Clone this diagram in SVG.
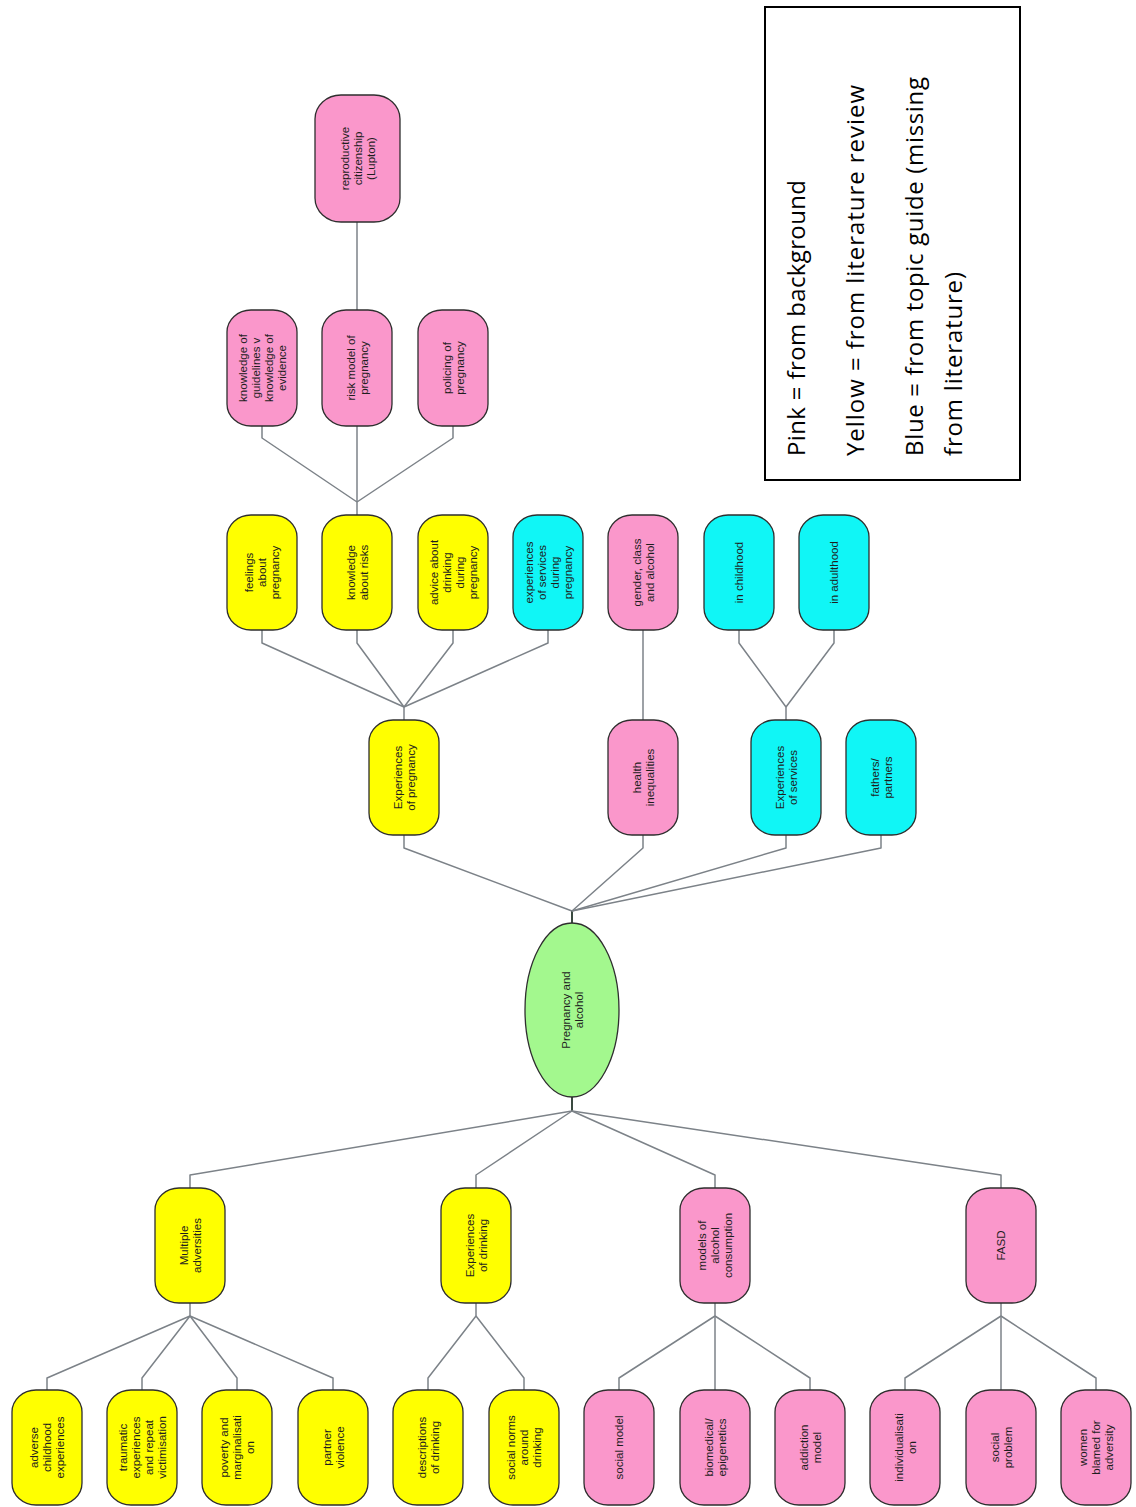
<svg xmlns="http://www.w3.org/2000/svg" width="1136" height="1507" viewBox="0 0 1136 1507">
  <style>
    .bg { fill: #ffffff; }
    .node rect, .node ellipse { stroke: #2e2e2e; stroke-width: 1.3; }
    .pink rect { fill: #FA97CB; }
    .yellow rect { fill: #FFFF00; }
    .cyan rect { fill: #10F6F6; }
    .green ellipse { fill: #A3F88E; }
    .node text { font-family: "Liberation Sans", Arial, sans-serif; font-size: 11.5px; fill: #1e1e1e; text-anchor: middle; }
    .links path { fill: none; stroke: #7c8288; stroke-width: 1.5; stroke-linejoin: round; }
    .links .stem { stroke: #3a4a40; stroke-width: 2; }
    .legend rect { fill: #ffffff; stroke: #000000; stroke-width: 2; }
    .legend text { font-family: "Open Sans", "Liberation Sans", sans-serif; font-size: 24px; fill: #000000; }
  </style>

  <rect class="bg" x="0" y="0" width="1136" height="1507"/>

  <!-- connectors -->
  <g id="connectors" class="links">
    <!-- upper fan from the central ellipse -->
    <path class="stem" d="M572 924 V911"/>
    <path d="M404 835 V848 L572 911"/>
    <path d="M643 835 V848 L572 911"/>
    <path d="M786 835 V848 L572 911"/>
    <path d="M881 835 V848 L572 911"/>
    <!-- Experiences of pregnancy -->
    <path d="M404 720 V707"/>
    <path d="M262 630 V643 L404 707"/>
    <path d="M357 630 V643 L404 707"/>
    <path d="M453 630 V643 L404 707"/>
    <path d="M548 630 V643 L404 707"/>
    <!-- health inequalities -->
    <path d="M643 720 V630"/>
    <!-- Experiences of services -->
    <path d="M786 720 V707"/>
    <path d="M739 630 V643 L786 707"/>
    <path d="M834 630 V643 L786 707"/>
    <!-- knowledge about risks -->
    <path d="M357 515 V502"/>
    <path d="M262 426 V438 L357 502"/>
    <path d="M357 426 V438 L357 502"/>
    <path d="M453 426 V438 L357 502"/>
    <!-- risk model of pregnancy -->
    <path d="M357 310 V222"/>
    <!-- lower fan from the central ellipse -->
    <path class="stem" d="M572 1097 V1111"/>
    <path d="M190 1188 V1175 L572 1111"/>
    <path d="M476 1188 V1175 L572 1111"/>
    <path d="M715 1188 V1175 L572 1111"/>
    <path d="M1001 1188 V1175 L572 1111"/>
    <!-- Multiple adversities -->
    <path d="M190 1303 V1316"/>
    <path d="M47 1390 V1378 L190 1316"/>
    <path d="M142 1390 V1378 L190 1316"/>
    <path d="M237 1390 V1378 L190 1316"/>
    <path d="M333 1390 V1378 L190 1316"/>
    <!-- Experiences of drinking -->
    <path d="M476 1303 V1316"/>
    <path d="M428 1390 V1378 L476 1316"/>
    <path d="M524 1390 V1378 L476 1316"/>
    <!-- models of alcohol consumption -->
    <path d="M715 1303 V1316"/>
    <path d="M619 1390 V1378 L715 1316"/>
    <path d="M715 1390 V1378 L715 1316"/>
    <path d="M810 1390 V1378 L715 1316"/>
    <!-- FASD -->
    <path d="M1001 1303 V1316"/>
    <path d="M905 1390 V1378 L1001 1316"/>
    <path d="M1001 1390 V1378 L1001 1316"/>
    <path d="M1096 1390 V1378 L1001 1316"/>
  </g>

  <!-- central topic -->
  <g id="pregnancy-and-alcohol" class="node green">
    <ellipse cx="572" cy="1010" rx="47" ry="87"/>
    <text transform="translate(572 1010) rotate(-90)"><tspan x="0" y="-2.5">Pregnancy and</tspan><tspan x="0" y="10.5">alcohol</tspan></text>
  </g>

  <!-- upper branch: top row -->
  <g id="reproductive-citizenship" class="node pink">
    <rect x="315" y="95" width="85" height="127" rx="26" ry="24"/>
    <text transform="translate(357.5 158.5) rotate(-90)"><tspan x="0" y="-9">reproductive</tspan><tspan x="0" y="4">citizenship</tspan><tspan x="0" y="17">(Lupton)</tspan></text>
  </g>
  <g id="knowledge-of-guidelines" class="node pink">
    <rect x="227" y="310" width="70" height="116" rx="24" ry="22"/>
    <text transform="translate(262 368) rotate(-90)"><tspan x="0" y="-15.5">knowledge of</tspan><tspan x="0" y="-2.5">guidelines v</tspan><tspan x="0" y="10.5">knowledge of</tspan><tspan x="0" y="23.5">evidence</tspan></text>
  </g>
  <g id="risk-model" class="node pink">
    <rect x="322" y="310" width="70" height="116" rx="24" ry="22"/>
    <text transform="translate(357 368) rotate(-90)"><tspan x="0" y="-2.5">risk model of</tspan><tspan x="0" y="10.5">pregnancy</tspan></text>
  </g>
  <g id="policing-of-pregnancy" class="node pink">
    <rect x="418" y="310" width="70" height="116" rx="24" ry="22"/>
    <text transform="translate(453 368) rotate(-90)"><tspan x="0" y="-2.5">policing of</tspan><tspan x="0" y="10.5">pregnancy</tspan></text>
  </g>

  <!-- upper branch: second row -->
  <g id="feelings-about-pregnancy" class="node yellow">
    <rect x="227" y="515" width="70" height="115" rx="24" ry="22"/>
    <text transform="translate(262 572.5) rotate(-90)"><tspan x="0" y="-9">feelings</tspan><tspan x="0" y="4">about</tspan><tspan x="0" y="17">pregnancy</tspan></text>
  </g>
  <g id="knowledge-about-risks" class="node yellow">
    <rect x="322" y="515" width="70" height="115" rx="24" ry="22"/>
    <text transform="translate(357 572.5) rotate(-90)"><tspan x="0" y="-2.5">knowledge</tspan><tspan x="0" y="10.5">about risks</tspan></text>
  </g>
  <g id="advice-about-drinking" class="node yellow">
    <rect x="418" y="515" width="70" height="115" rx="24" ry="22"/>
    <text transform="translate(453 572.5) rotate(-90)"><tspan x="0" y="-15.5">advice about</tspan><tspan x="0" y="-2.5">drinking</tspan><tspan x="0" y="10.5">during</tspan><tspan x="0" y="23.5">pregnancy</tspan></text>
  </g>
  <g id="services-during-pregnancy" class="node cyan">
    <rect x="513" y="515" width="70" height="115" rx="24" ry="22"/>
    <text transform="translate(548 572.5) rotate(-90)"><tspan x="0" y="-15.5">experiences</tspan><tspan x="0" y="-2.5">of services</tspan><tspan x="0" y="10.5">during</tspan><tspan x="0" y="23.5">pregnancy</tspan></text>
  </g>
  <g id="gender-class-alcohol" class="node pink">
    <rect x="608" y="515" width="70" height="115" rx="24" ry="22"/>
    <text transform="translate(643 572.5) rotate(-90)"><tspan x="0" y="-2.5">gender, class</tspan><tspan x="0" y="10.5">and alcohol</tspan></text>
  </g>
  <g id="in-childhood" class="node cyan">
    <rect x="704" y="515" width="70" height="115" rx="24" ry="22"/>
    <text transform="translate(739 572.5) rotate(-90)"><tspan x="0" y="4">in childhood</tspan></text>
  </g>
  <g id="in-adulthood" class="node cyan">
    <rect x="799" y="515" width="70" height="115" rx="24" ry="22"/>
    <text transform="translate(834 572.5) rotate(-90)"><tspan x="0" y="4">in adulthood</tspan></text>
  </g>

  <!-- upper branch: third row -->
  <g id="experiences-of-pregnancy" class="node yellow">
    <rect x="369" y="720" width="70" height="115" rx="24" ry="22"/>
    <text transform="translate(404 777.5) rotate(-90)"><tspan x="0" y="-2.5">Experiences</tspan><tspan x="0" y="10.5">of pregnancy</tspan></text>
  </g>
  <g id="health-inequalities" class="node pink">
    <rect x="608" y="720" width="70" height="115" rx="24" ry="22"/>
    <text transform="translate(643 777.5) rotate(-90)"><tspan x="0" y="-2.5">health</tspan><tspan x="0" y="10.5">inequalities</tspan></text>
  </g>
  <g id="experiences-of-services" class="node cyan">
    <rect x="751" y="720" width="70" height="115" rx="24" ry="22"/>
    <text transform="translate(786 777.5) rotate(-90)"><tspan x="0" y="-2.5">Experiences</tspan><tspan x="0" y="10.5">of services</tspan></text>
  </g>
  <g id="fathers-partners" class="node cyan">
    <rect x="846" y="720" width="70" height="115" rx="24" ry="22"/>
    <text transform="translate(881 777.5) rotate(-90)"><tspan x="0" y="-2.5">fathers/</tspan><tspan x="0" y="10.5">partners</tspan></text>
  </g>

  <!-- lower branch: themes -->
  <g id="multiple-adversities" class="node yellow">
    <rect x="155" y="1188" width="70" height="115" rx="24" ry="22"/>
    <text transform="translate(190 1245.5) rotate(-90)"><tspan x="0" y="-2.5">Multiple</tspan><tspan x="0" y="10.5">adversities</tspan></text>
  </g>
  <g id="experiences-of-drinking" class="node yellow">
    <rect x="441" y="1188" width="70" height="115" rx="24" ry="22"/>
    <text transform="translate(476 1245.5) rotate(-90)"><tspan x="0" y="-2.5">Experiences</tspan><tspan x="0" y="10.5">of drinking</tspan></text>
  </g>
  <g id="models-of-alcohol-consumption" class="node pink">
    <rect x="680" y="1188" width="70" height="115" rx="24" ry="22"/>
    <text transform="translate(715 1245.5) rotate(-90)"><tspan x="0" y="-9">models of</tspan><tspan x="0" y="4">alcohol</tspan><tspan x="0" y="17">consumption</tspan></text>
  </g>
  <g id="fasd" class="node pink">
    <rect x="966" y="1188" width="70" height="115" rx="24" ry="22"/>
    <text transform="translate(1001 1245.5) rotate(-90)"><tspan x="0" y="4">FASD</tspan></text>
  </g>

  <!-- lower branch: sub-themes -->
  <g id="adverse-childhood-experiences" class="node yellow">
    <rect x="12" y="1390" width="70" height="115" rx="24" ry="22"/>
    <text transform="translate(47 1447.5) rotate(-90)"><tspan x="0" y="-9">adverse</tspan><tspan x="0" y="4">childhood</tspan><tspan x="0" y="17">experiences</tspan></text>
  </g>
  <g id="traumatic-experiences" class="node yellow">
    <rect x="107" y="1390" width="70" height="115" rx="24" ry="22"/>
    <text transform="translate(142 1447.5) rotate(-90)"><tspan x="0" y="-15.5">traumatic</tspan><tspan x="0" y="-2.5">experiences</tspan><tspan x="0" y="10.5">and repeat</tspan><tspan x="0" y="23.5">victimisation</tspan></text>
  </g>
  <g id="poverty-and-marginalisation" class="node yellow">
    <rect x="202" y="1390" width="70" height="115" rx="24" ry="22"/>
    <text transform="translate(237 1447.5) rotate(-90)"><tspan x="0" y="-9">poverty and</tspan><tspan x="0" y="4">marginalisati</tspan><tspan x="0" y="17">on</tspan></text>
  </g>
  <g id="partner-violence" class="node yellow">
    <rect x="298" y="1390" width="70" height="115" rx="24" ry="22"/>
    <text transform="translate(333 1447.5) rotate(-90)"><tspan x="0" y="-2.5">partner</tspan><tspan x="0" y="10.5">violence</tspan></text>
  </g>
  <g id="descriptions-of-drinking" class="node yellow">
    <rect x="393" y="1390" width="70" height="115" rx="24" ry="22"/>
    <text transform="translate(428 1447.5) rotate(-90)"><tspan x="0" y="-2.5">descriptions</tspan><tspan x="0" y="10.5">of drinking</tspan></text>
  </g>
  <g id="social-norms-around-drinking" class="node yellow">
    <rect x="489" y="1390" width="70" height="115" rx="24" ry="22"/>
    <text transform="translate(524 1447.5) rotate(-90)"><tspan x="0" y="-9">social norms</tspan><tspan x="0" y="4">around</tspan><tspan x="0" y="17">drinking</tspan></text>
  </g>
  <g id="social-model" class="node pink">
    <rect x="584" y="1390" width="70" height="115" rx="24" ry="22"/>
    <text transform="translate(619 1447.5) rotate(-90)"><tspan x="0" y="4">social model</tspan></text>
  </g>
  <g id="biomedical-epigenetics" class="node pink">
    <rect x="680" y="1390" width="70" height="115" rx="24" ry="22"/>
    <text transform="translate(715 1447.5) rotate(-90)"><tspan x="0" y="-2.5">biomedical/</tspan><tspan x="0" y="10.5">epigenetics</tspan></text>
  </g>
  <g id="addiction-model" class="node pink">
    <rect x="775" y="1390" width="70" height="115" rx="24" ry="22"/>
    <text transform="translate(810 1447.5) rotate(-90)"><tspan x="0" y="-2.5">addiction</tspan><tspan x="0" y="10.5">model</tspan></text>
  </g>
  <g id="individualisation" class="node pink">
    <rect x="870" y="1390" width="70" height="115" rx="24" ry="22"/>
    <text transform="translate(905 1447.5) rotate(-90)"><tspan x="0" y="-2.5">individualisati</tspan><tspan x="0" y="10.5">on</tspan></text>
  </g>
  <g id="social-problem" class="node pink">
    <rect x="966" y="1390" width="70" height="115" rx="24" ry="22"/>
    <text transform="translate(1001 1447.5) rotate(-90)"><tspan x="0" y="-2.5">social</tspan><tspan x="0" y="10.5">problem</tspan></text>
  </g>
  <g id="women-blamed-for-adversity" class="node pink">
    <rect x="1061" y="1390" width="70" height="115" rx="24" ry="22"/>
    <text transform="translate(1096 1447.5) rotate(-90)"><tspan x="0" y="-9">women</tspan><tspan x="0" y="4">blamed for</tspan><tspan x="0" y="17">adversity</tspan></text>
  </g>

  <!-- colour key -->
  <g id="legend" class="legend">
    <rect x="765" y="7" width="255" height="473"/>
    <text transform="translate(805 456) rotate(-90)" textLength="276">Pink = from background</text>
    <text transform="translate(864 456) rotate(-90)" textLength="371">Yellow = from literature review</text>
    <text transform="translate(923 456) rotate(-90)" textLength="379">Blue = from topic guide (missing</text>
    <text transform="translate(962 456) rotate(-90)" textLength="184">from literature)</text>
  </g>
</svg>
